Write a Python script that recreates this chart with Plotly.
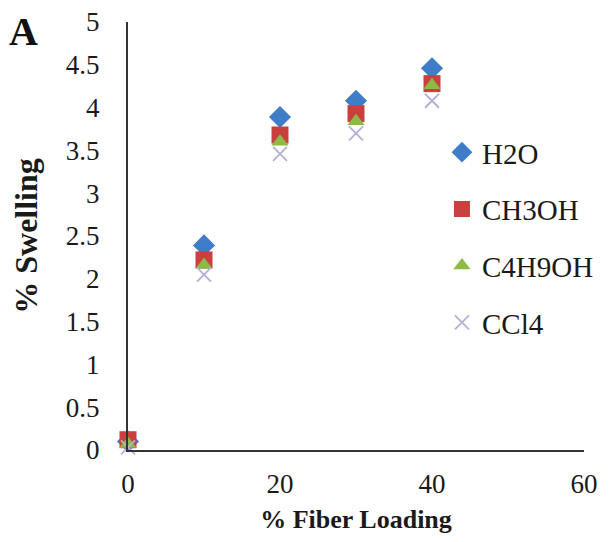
import plotly.graph_objects as go

fiber = [0, 10, 20, 30, 40]
h2o = [0.10, 2.39, 3.89, 4.08, 4.46]
ch3oh = [0.12, 2.22, 3.68, 3.93, 4.28]
c4h9oh = [0.07, 2.16, 3.60, 3.84, 4.26]
ccl4 = [0.03, 2.05, 3.46, 3.70, 4.08]

series = [
    ("H2O", h2o, "diamond", "#3F7DC9", 17),
    ("CH3OH", ch3oh, "square", "#C9403F", 17),
    ("C4H9OH", c4h9oh, "triangle-up", "#8DBA45", 15),
    ("CCl4", ccl4, "x-thin", "#B8AED6", 14),
]

fig = go.Figure()
for name, vals, sym, col, sz in series:
    marker = dict(symbol=sym, color=col, size=sz)
    if sym == "x-thin":
        marker["line"] = dict(color=col, width=1.8)
    fig.add_trace(go.Scatter(x=fiber, y=vals, mode="markers", name=name,
                             marker=marker, legendgroup=name))

font_serif = "Liberation Serif, Times New Roman, serif"
fig.update_layout(
    width=604, height=534,
    margin=dict(l=120, r=28, t=14, b=92),
    plot_bgcolor="white", paper_bgcolor="white",
    font=dict(family=font_serif, size=27, color="#1a1a1a"),
    showlegend=True,
    legend=dict(x=0.6885, y=0.755, xanchor="left", yanchor="top",
                font=dict(size=29, family=font_serif, color="#1a1a1a"),
                tracegroupgap=16, itemwidth=30, bgcolor="rgba(0,0,0,0)"),
    xaxis=dict(range=[0, 60], tickvals=[0, 20, 40, 60], showgrid=False,
               zeroline=False, showline=True, linecolor="#333333", linewidth=2,
               ticks="", ticklabelstandoff=9, automargin=False,
               ticklabeloverflow="allow",
               title=dict(text="<b>% Fiber Loading</b>", font=dict(size=26), standoff=11)),
    yaxis=dict(range=[0, 5], dtick=0.5, showgrid=False, zeroline=False,
               showline=True, linecolor="#333333", linewidth=2, ticks="",
               ticklabelstandoff=21, automargin=False,
               ticklabeloverflow="allow",
               title=dict(text="<b>% Swelling</b>", font=dict(size=32), standoff=26)),
)
fig.add_annotation(text="<b>A</b>", x=0, y=1, xref="paper", yref="paper",
                   xanchor="left", yanchor="top", showarrow=False,
                   font=dict(size=40, family=font_serif, color="#111111"),
                   xshift=-120, yshift=14, borderpad=0)
fig.update_traces(cliponaxis=False)
fig.write_html("out.html")
